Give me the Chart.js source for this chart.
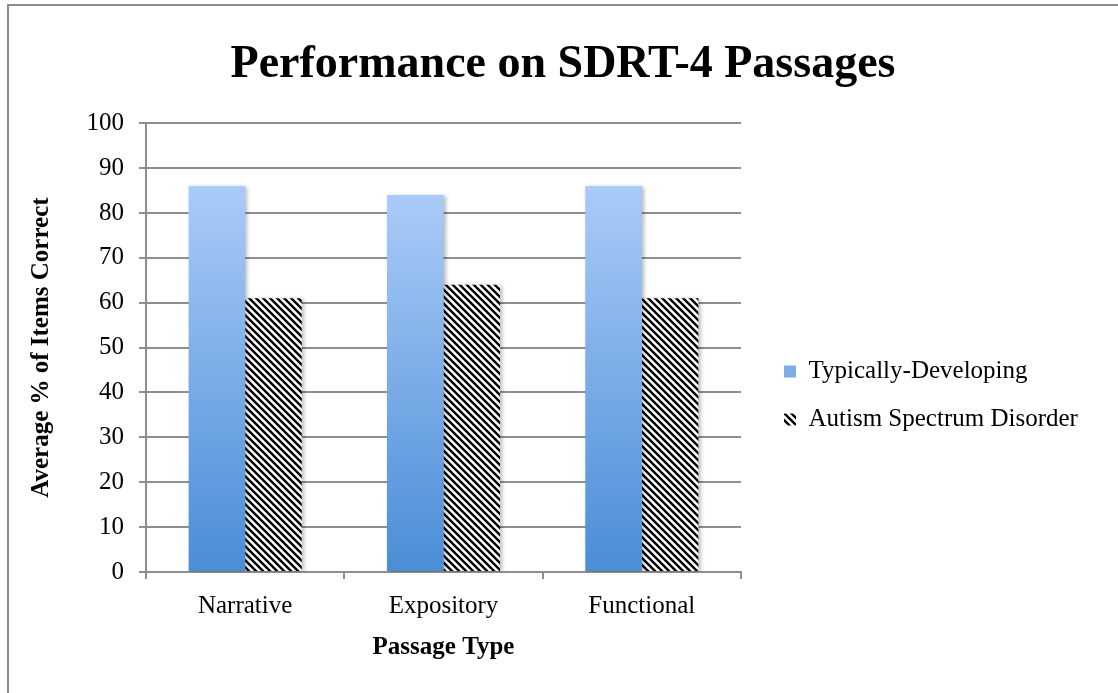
<!DOCTYPE html>
<html>
<head>
<meta charset="utf-8">
<script src="https://cdn.jsdelivr.net/npm/chart.js@4"></script>
<style>
  html, body { margin: 0; padding: 0; background: #fff; }
  #frame {
    position: absolute; left: 7px; top: 4px; width: 1200px; height: 800px;
    border-left: 2px solid #8c8c8c; border-top: 2px solid #8c8c8c;
  }
  #chart { position: absolute; left: 0; top: 0; }
</style>
</head>
<body>
<div id="frame"></div>
<canvas id="chart" width="1118" height="693"></canvas>
<script>
// ================== DATA ==================
const categories = ["Narrative", "Expository", "Functional"];
const typicallyDeveloping = [86, 84, 86];
const autismSpectrum = [61, 64, 61];
const seriesNames = ["Typically-Developing", "Autism Spectrum Disorder"];

// ================== STYLE ==================
const FONT = '"Liberation Serif", "Times New Roman", serif';
const GRID = "#8e8e8e";
const TD_TOP = "#aacbf8";
const TD_BOTTOM = "#4a8dd6";
const LEGEND_X = 761;
const LEGEND_Y = 336;
const LEGEND_PAD = 23;

// hatch pattern for the ASD bars
function makeHatch() {
  const p = document.createElement("canvas");
  p.width = 7;
  p.height = 7;
  const c = p.getContext("2d");
  c.fillStyle = "#fff";
  c.fillRect(0, 0, 7, 7);
  c.strokeStyle = "#000";
  c.lineWidth = 2.4;
  c.beginPath();
  c.moveTo(-1, -1); c.lineTo(8, 8);
  c.moveTo(-8, -1); c.lineTo(1, 8);
  c.moveTo(6, -1); c.lineTo(15, 8);
  c.stroke();
  return c.createPattern(p, "repeat");
}
const hatch = makeHatch();

// vertical gradient per bar (or at the legend box)
function tdFill(ctx) {
  const chart = ctx.chart;
  if (!chart.chartArea) return TD_BOTTOM;
  let top, bottom;
  if (ctx.type === "data") {
    top = chart.scales.y.getPixelForValue(ctx.raw);
    bottom = chart.scales.y.getPixelForValue(0);
  } else {
    top = LEGEND_Y + LEGEND_PAD + 4;
    bottom = top + 14;
  }
  const g = chart.ctx.createLinearGradient(0, top, 0, bottom);
  g.addColorStop(0, TD_TOP);
  g.addColorStop(1, TD_BOTTOM);
  return g;
}

// soft shadow behind bars
const barShadow = {
  id: "barShadow",
  beforeDatasetsDraw(chart) {
    const c = chart.ctx;
    c.save();
    c.shadowColor = "rgba(0,0,0,0.28)";
    c.shadowBlur = 4;
    c.shadowOffsetX = 2;
    c.shadowOffsetY = 1;
  },
  afterDatasetsDraw(chart) {
    chart.ctx.restore();
  },
};

// fix legend width and position it like the original
const legendPlace = {
  id: "legendPlace",
  afterInit(chart) {
    const lg = chart.legend;
    const fit = lg.fit.bind(lg);
    lg.fit = function () {
      fit();
      this.width = 377;
    };
  },
  afterLayout(chart) {
    const lg = chart.legend;
    lg.left = LEGEND_X;
    lg.top = LEGEND_Y;
    lg.bottom = chart.height;
  },
};

// ================== CHART ==================
new Chart(document.getElementById("chart"), {
  type: "bar",
  data: {
    labels: categories,
    datasets: [
      {
        label: seriesNames[0],
        data: typicallyDeveloping,
        backgroundColor: tdFill,
        borderWidth: 0,
      },
      {
        label: seriesNames[1],
        data: autismSpectrum,
        backgroundColor: hatch,
        borderWidth: 0,
      },
    ],
  },
  options: {
    responsive: false,
    animation: false,
    events: [],
    layout: { padding: { left: 8, top: 0, right: 0, bottom: 0 } },
    datasets: {
      bar: { categoryPercentage: 0.57, barPercentage: 1.0 },
    },
    scales: {
      x: {
        afterFit: (s) => { s.height = 121; },
        grid: {
          offset: true,
          drawOnChartArea: false,
          drawTicks: true,
          tickLength: 7,
          color: GRID,
          lineWidth: 2,
        },
        border: { color: GRID, width: 2 },
        ticks: {
          color: "#000",
          padding: 12,
          font: { family: FONT, size: 25 },
        },
        title: {
          display: true,
          text: "Passage Type",
          color: "#000",
          padding: { top: 0, bottom: 30 },
          font: { family: FONT, size: 25, weight: "bold" },
        },
      },
      y: {
        min: 0,
        max: 100,
        afterFit: (s) => { s.width = 138; },
        grid: {
          color: GRID,
          lineWidth: 2,
          drawTicks: true,
          tickLength: 7,
        },
        border: { color: GRID, width: 2 },
        ticks: {
          stepSize: 10,
          color: "#000",
          padding: 15,
          font: { family: FONT, size: 25 },
        },
        title: {
          display: true,
          text: "Average % of Items Correct",
          color: "#000",
          padding: { top: 19, bottom: 0 },
          font: { family: FONT, size: 25, weight: "bold" },
        },
      },
    },
    plugins: {
      title: {
        display: true,
        text: "Performance on SDRT-4 Passages",
        color: "#000",
        padding: { top: 38, bottom: 30 },
        font: { family: FONT, size: 46, weight: "bold" },
      },
      legend: {
        position: "right",
        align: "start",
        labels: {
          color: "#000",
          boxWidth: 12,
          boxHeight: 12,
          padding: LEGEND_PAD,
          font: { family: FONT, size: 25 },
        },
      },
      tooltip: { enabled: false },
    },
  },
  plugins: [barShadow, legendPlace],
});
</script>
</body>
</html>
